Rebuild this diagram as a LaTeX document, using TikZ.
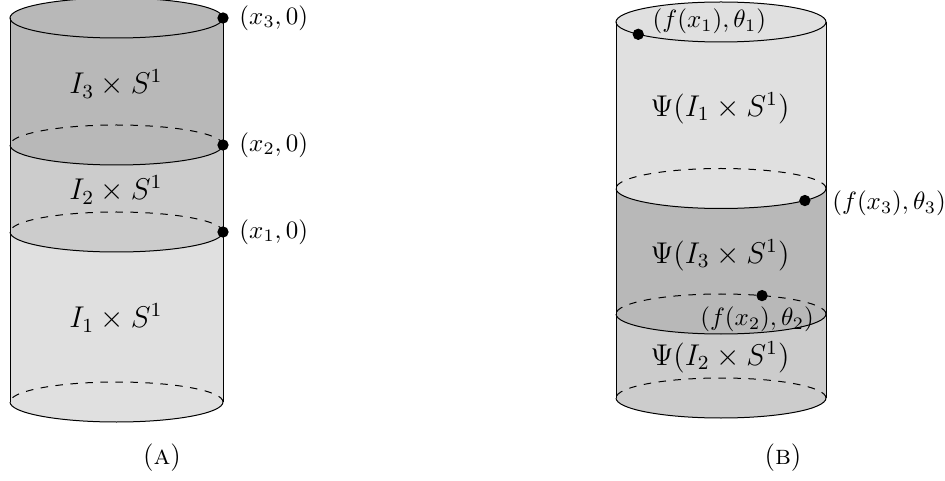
\documentclass[tikz,border=0pt]{standalone}
\usepackage{amsmath, amssymb}
\usepackage{tikz}
\usetikzlibrary{positioning}

\begin{document}
\begin{tikzpicture}[
  x=0.4pt, y=0.4pt,
  dark/.style={fill=black!28},
  mid/.style={fill=black!20},
  light/.style={fill=black!12},
  back/.style={dashed},
  dot/.style={circle, fill, inner sep=1.6pt},
  piece/.style={font=\large},
  caption/.style={font=\fontsize{11pt}{13pt}\selectfont},
]
  \useasboundingbox (0,0) rectangle (945,480);

  % (A): the cylinder cut into I_1, I_2, I_3
  \begin{scope}[x radius=106.5, y radius=20]
    \fill[dark] (10,462) -- (10,335) arc[start angle=180, end angle=360] -- (223,462) arc[start angle=0, end angle=180] -- cycle;
    \fill[mid] (10,335) arc[start angle=180, end angle=360] -- (223,248) arc[start angle=0, end angle=-180] -- cycle;
    \fill[light] (10,248) arc[start angle=180, end angle=360] -- (223,78) arc[start angle=0, end angle=-180] -- cycle;
    \draw (10,462) -- (10,78) (223,462) -- (223,78);
    \draw (116.5,462) ellipse[];
    \draw (10,335) arc[start angle=180, end angle=360];
    \draw[back] (223,335) arc[start angle=0, end angle=180];
    \draw (10,248) arc[start angle=180, end angle=360];
    \draw[back] (223,248) arc[start angle=0, end angle=180];
    \draw (10,78) arc[start angle=180, end angle=360];
    \draw[back] (223,78) arc[start angle=0, end angle=180];
  \end{scope}

  \node[piece] (i3) at (116,396) {$I_3\times S^1$};
  \node[piece] (i2) at (116,290) {$I_2\times S^1$};
  \node[piece] (i1) at (116,162) {$I_1\times S^1$};

  \node[dot] (x3) at (223,462) {};
  \node[dot] (x2) at (223,335) {};
  \node[dot] (x1) at (223,248) {};
  \node[right=0.6pt of x3] (lx3) {$(x_3,0)$};
  \node[right=0.6pt of x2] (lx2) {$(x_2,0)$};
  \node[right=0.6pt of x1] (lx1) {$(x_1,0)$};

  \node[caption] (capA) at (162,22) {(\textsc{a})};

  % (B): the pieces after Psi
  \begin{scope}[x radius=105, y radius=20]
    \fill[light] (616,458) -- (616,291.5) arc[start angle=180, end angle=360] -- (826,458) arc[start angle=0, end angle=180] -- cycle;
    \fill[dark] (616,291.5) arc[start angle=180, end angle=360] -- (826,166) arc[start angle=0, end angle=-180] -- cycle;
    \fill[mid] (616,166) arc[start angle=180, end angle=360] -- (826,82) arc[start angle=0, end angle=-180] -- cycle;
    \draw (616,458) -- (616,82) (826,458) -- (826,82);
    \draw (721,458) ellipse[];
    \draw (616,291.5) arc[start angle=180, end angle=360];
    \draw[back] (826,291.5) arc[start angle=0, end angle=180];
    \draw (616,166) arc[start angle=180, end angle=360];
    \draw[back] (826,166) arc[start angle=0, end angle=180];
    \draw (616,82) arc[start angle=180, end angle=360];
    \draw[back] (826,82) arc[start angle=0, end angle=180];
  \end{scope}

  \node[piece] (p1) at (720,372) {$\Psi(I_1\times S^1)$};
  \node[piece] (p3) at (720,225) {$\Psi(I_3\times S^1)$};
  \node[piece] (p2) at (720,123) {$\Psi(I_2\times S^1)$};

  \node[dot] (y1) at ([shift={(721,458)}]218:105 and 20) {};
  \node[dot] (y3) at ([shift={(721,291.5)}]-37:105 and 20) {};
  \node[dot] (y2) at ([shift={(721,166)}]67:105 and 20) {};
  \node[above right=-5pt and 0.5pt of y1] (ly1) {$(f(x_1),\theta_1)$};
  \node[right=5pt of y3, yshift=-1pt] (ly3) {$(f(x_3),\theta_3)$};
  \node[below=-1.5pt of y2, xshift=-2pt] (ly2) {$(f(x_2),\theta_2)$};

  \node[caption] (capB) at (783,22) {(\textsc{b})};
\end{tikzpicture}
\end{document}
